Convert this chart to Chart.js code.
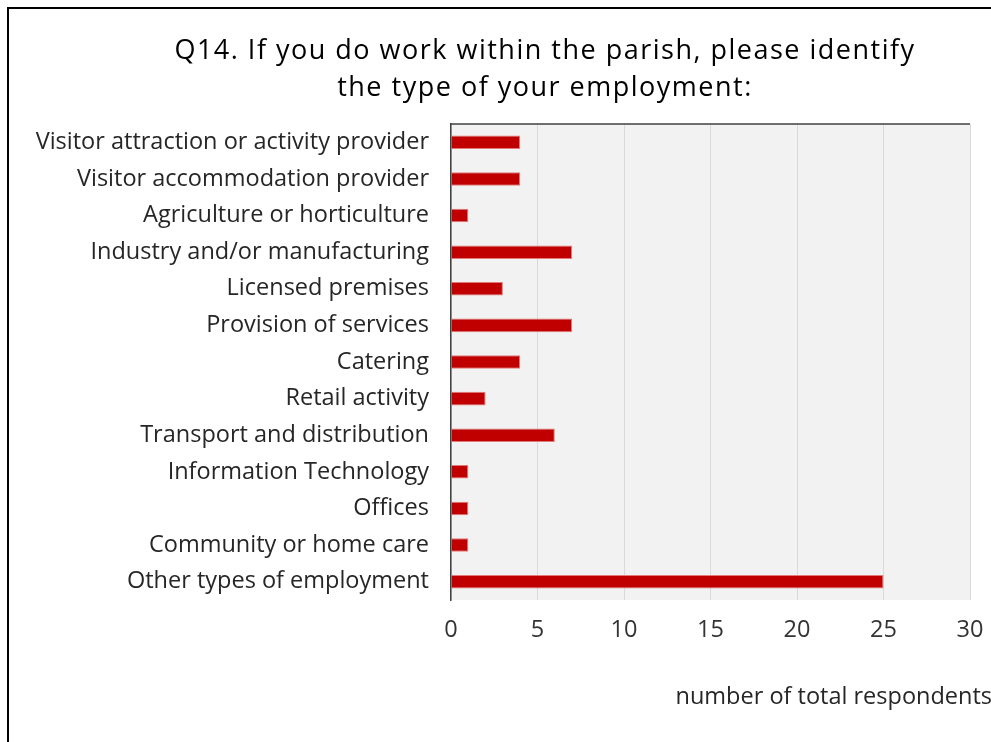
<!DOCTYPE html>
<html>
<head>
<meta charset="utf-8">
<script src="https://cdn.jsdelivr.net/npm/chart.js@4/dist/chart.umd.min.js"></script>
<style>
  html, body { margin: 0; padding: 0; background: #fff; overflow: hidden; }
  #frame {
    position: absolute; left: 7px; top: 7px;
    width: 1000px; height: 740px;
    border: 2px solid #000; background: #fff;
  }
  #frame canvas { display: block; }
  #title {
    position: absolute; left: 145px; width: 800px; top: 30px;
    text-align: center; font-family: "Open Sans", sans-serif;
    font-size: 27px; line-height: 37px; letter-spacing: 1.5px; color: #000;
  }
</style>
</head>
<body>
<div id="frame"><canvas id="myChart" width="1000" height="733"></canvas></div>
<div id="title"></div>
<script>
const categories = [
  'Visitor attraction or activity provider',
  'Visitor accommodation provider',
  'Agriculture or horticulture',
  'Industry and/or manufacturing',
  'Licensed premises',
  'Provision of services',
  'Catering',
  'Retail activity',
  'Transport and distribution',
  'Information Technology',
  'Offices',
  'Community or home care',
  'Other types of employment'
];
const respondents = [4, 4, 1, 7, 3, 7, 4, 2, 6, 1, 1, 1, 25];
const titleLines = ['Q14. If you do work within the parish, please identify', 'the type of your employment:'];
const axisTitle = 'number of total respondents';

const FONT = '"Open Sans", sans-serif';

// title as html text
const t = document.getElementById('title');
titleLines.forEach(function (line) {
  const d = document.createElement('div');
  d.textContent = line;
  t.appendChild(d);
});

// grey plot background + dark top edge + axis title
const plotBox = {
  id: 'plotBox',
  beforeDraw(chart) {
    const { ctx, chartArea: a } = chart;
    ctx.save();
    ctx.fillStyle = '#f2f2f2';
    ctx.fillRect(a.left, a.top, a.right - a.left, a.bottom - a.top);
    ctx.restore();
  },
  afterDraw(chart) {
    const { ctx, chartArea: a } = chart;
    ctx.save();
    ctx.strokeStyle = '#404040';
    ctx.lineWidth = 1.5;
    ctx.beginPath();
    ctx.moveTo(a.left, a.top);
    ctx.lineTo(a.right, a.top);
    ctx.stroke();
    ctx.fillStyle = '#262626';
    ctx.font = '23.5px ' + FONT;
    ctx.textAlign = 'right';
    ctx.textBaseline = 'middle';
    ctx.fillText(axisTitle, a.right + 22, 688);
    ctx.restore();
  }
};

const ctx = document.getElementById('myChart').getContext('2d');
new Chart(ctx, {
  type: 'bar',
  data: {
    labels: categories,
    datasets: [{
      data: respondents,
      backgroundColor: '#c00000',
      borderColor: '#e27a7a',
      borderWidth: 1,
      borderSkipped: 'left',
      categoryPercentage: 1,
      barPercentage: 0.37
    }]
  },
  options: {
    indexAxis: 'y',
    responsive: false,
    animation: false,
    layout: { padding: { left: 0, right: 39, top: 115, bottom: 0 } },
    plugins: {
      legend: { display: false },
      tooltip: { enabled: false },
      title: { display: false }
    },
    scales: {
      x: {
        min: 0,
        max: 30,
        ticks: { stepSize: 5, color: '#333', font: { family: FONT, size: 23.5 }, padding: 16 },
        grid: { color: '#d9d9d9', lineWidth: 1, drawTicks: false },
        border: { display: false },
        afterFit(scale) { scale.height = 142; }
      },
      y: {
        ticks: { color: '#262626', font: { family: FONT, size: 23.5 }, padding: 22 },
        grid: { display: false, drawTicks: false },
        border: { display: true, color: '#404040', width: 1.5 },
        afterFit(scale) { scale.width = 442; }
      }
    }
  },
  plugins: [plotBox]
});
</script>
</body>
</html>
